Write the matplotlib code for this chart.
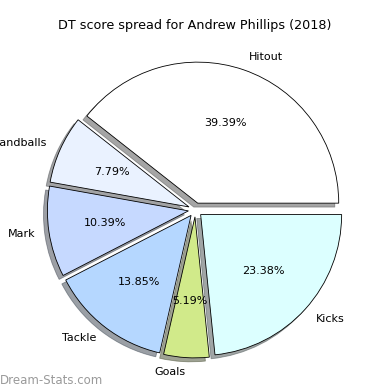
import matplotlib
matplotlib.use("Agg")
import matplotlib.pyplot as plt

labels = ["Hitout", "Handballs", "Mark", "Tackle", "Goals", "Kicks"]
scores = [91, 18, 24, 32, 12, 54]
colors = ["#ffffff", "#eaf2ff", "#c6d9ff", "#b5d7ff", "#d1ea8a", "#dcffff"]
title = "DT score spread for Andrew Phillips (2018)"

fig = plt.figure(figsize=(3.9, 3.9), dpi=100)
ax = fig.add_axes([0.049, 0.010, 0.904, 0.904])
ax.pie(scores, labels=labels, colors=colors, explode=[0.05] * len(scores),
       autopct="%1.2f%%", shadow=True, startangle=0, counterclock=True,
       wedgeprops=dict(edgecolor="black", linewidth=0.6),
       textprops=dict(fontsize=8))
ax.set_xlim(-1.25, 1.25)
ax.set_ylim(-1.25, 1.25)
ax.set_aspect("equal")

fig.text(0.5, 1 - 25 / 390, title, ha="center", va="center", fontsize=9.2)
fig.text(0.0, 1 - 380 / 390, "Dream-Stats.com", ha="left", va="center",
         fontsize=8.5, color="#9a9a9a")

fig.savefig("out.png", dpi=100)
